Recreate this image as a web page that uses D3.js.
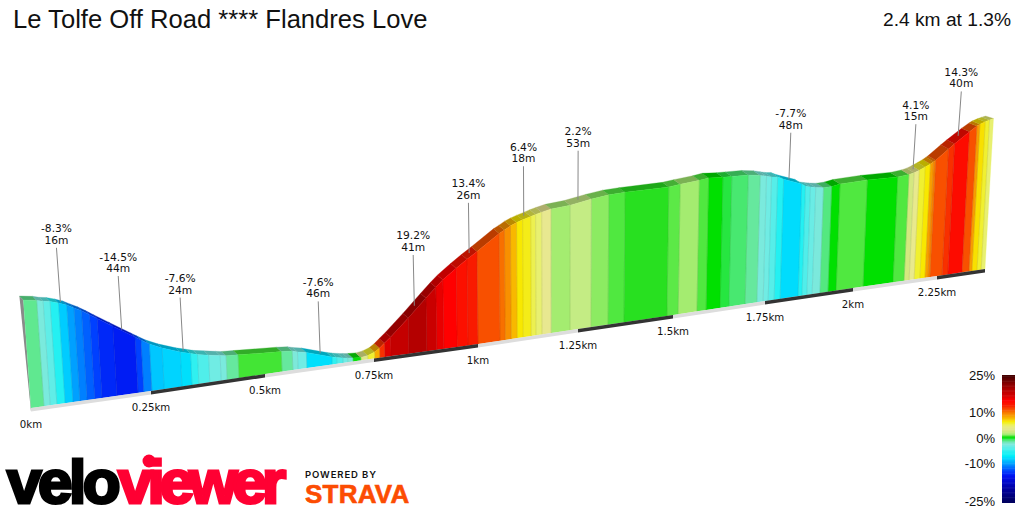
<!DOCTYPE html>
<html>
<head>
<meta charset="utf-8">
<script src="https://cdn.jsdelivr.net/npm/d3@7"></script>
<style>
  body { margin: 0; background: #fff; }
  text { fill: #111; }
</style>
</head>
<body>
<div id="chart"></div>
<script>
var titleText = 'Le Tolfe Off Road **** Flandres Love',
    summaryText = '2.4 km at 1.3%';

// km at the end of every gradient block
var segmentEnds = [
  .027, .040, .054, .071, .0875, .102, .117, .133, .148, .179, .223, .235, .252,
  .279, .318, .340, .355, .379, .404, .417, .443, .539, .564, .576, .596, .654,
  .665, .679, .690, .702, .720, .736, .752, .764, .776, .791, .834, .877, .901,
  .918, .950, .976, 1.0, 1.055, 1.068, 1.083, 1.098, 1.113, 1.133, 1.145, 1.160,
  1.183, 1.230, 1.284, 1.329, 1.371, 1.484, 1.514, 1.565, 1.590, 1.628, 1.652,
  1.696, 1.728, 1.745, 1.759, 1.776, 1.793, 1.844, 1.855, 1.869, 1.884, 1.906,
  1.929, 1.952, 2.030, 2.119, 2.152, 2.167, 2.182, 2.199, 2.214, 2.223, 2.229,
  2.266, 2.284, 2.328, 2.350, 2.359, 2.375, 2.388, 2.4
];

// gradient % of every block
var segmentGrades = [
  -1, -2.4, -3.5, -5.5, -8.3, -10, -11, -12, -13, -14, -14.5, -13, -11,
  -8.5, -8, -7.6, -5, -4, -3, -2.4, -1.2, .9, -1.2, -2.2, -3, -7.6,
  -5, -4, -3, -2, .4, 3.5, 6, 8.5, 12.5, 16.5, 18, 19.2, 17.5,
  16, 15, 14, 13.4, 11.5, 10.5, 9.5, 8, 6.8, 6.4, 5.5, 5,
  4, 1.7, 2.2, 1.5, 1, .7, 1.1, 1.7, 1, .3, -.1,
  -.6, -1.2, -2.4, -3, -3.8, -5.5, -7.7, -5.5, -4, -3.2, -2.3,
  -.8, .3, 1, .3, 1, 3, 4.1, 6, 6.8, 9, 10,
  11.5, 12.5, 14.3, 11.5, 9, 7, 6, 5
];

// elevation in metres at km 0 and at every block end
var elevations = [
  40.0, 39.3, 38.7, 38.3, 37.4, 36.3, 34.9, 33.5, 31.7, 29.9, 26.3, 21.2, 19.8, 17.9,
  15.7, 13.2, 12.1, 11.3, 10.5, 9.7, 9.3, 9.0, 7.9, 7.5, 6.9, 6.2, 3.0,
  2.5, 2.0, 1.7, 1.4, 1.2, 1.6, 2.6, 3.9, 5.7, 7.8, 14.6, 21.9, 25.9,
  28.6, 32.8, 36.0, 38.8, 45.3, 46.5, 48.0, 49.1, 50.0, 51.0, 51.7, 52.4,
  53.3, 54.1, 55.8, 56.9, 57.3, 57.8, 58.5, 59.4, 60.1, 59.7, 59.7,
  59.6, 58.9, 58.2, 57.6, 57.3, 56.0, 53.0, 51.7, 51.1, 50.6, 50.1,
  50.3, 51.1, 51.8, 51.9, 52.6, 53.2, 54.2, 55.6, 56.9, 57.8, 58.5,
  63.6, 66.0, 71.6, 74.2, 75.1, 76.2, 76.9, 77.5
];

var calloutKm = [.079, .201, .329, .633, .8555, .988, 1.123, 1.257, 1.818, 2.175, 2.306],
    calloutGrades = ['-8.3%', '-14.5%', '-7.6%', '-7.6%', '19.2%', '13.4%', '6.4%', '2.2%', '-7.7%', '4.1%', '14.3%'],
    calloutLengths = ['16m', '44m', '24m', '46m', '41m', '26m', '18m', '53m', '48m', '15m', '40m'];

var tickKm = [0, .25, .5, .75, 1, 1.25, 1.5, 1.75, 2, 2.25],
    tickLabels = ['0km', '0.25km', '0.5km', '0.75km', '1km', '1.25km', '1.5km', '1.75km', '2km', '2.25km'],
    totalKm = 2.4;

var legendTicks = [25, 10, 0, -10, -25],
    colorStops = [-25, -20, -15, -13, -10, -8, -7, -5, -3, -2, -1, -.2, .3, .7, 1, 1.7, 2.2, 3, 4, 5, 6, 6.8, 8, 9.5, 10.5, 11.5, 13, 15, 17, 19, 22, 25],
    colorValues = ['#000060', '#0000a0', '#0010f0', '#0040ff', '#00a0ff', '#00d4ff', '#00f0f8', '#30f0f0', '#70ece4', '#80e8d8',
                   '#60e890', '#30e850', '#00e000', '#28e020', '#50e840', '#a4ec70', '#c4ec84', '#d4e880', '#e8e890', '#e8f070',
                   '#f0f030', '#f8e800', '#f8b800', '#f89000', '#f87000', '#f85000', '#f82000', '#ff0000', '#d00000', '#b80000',
                   '#800000', '#400000'];

var WIDTH = 1024,
    HEIGHT = 512,
    STRIP = 3.5,
    FONT = '"DejaVu Sans", sans-serif',
    HEADER_FONT = '"Liberation Sans", Arial, sans-serif';

var svg = d3.select('#chart').append('svg')
  .attr('width', WIDTH)
  .attr('height', HEIGHT)
  .style('display', 'block');

var color = d3.scaleLinear().domain(colorStops).range(colorValues).clamp(true);

// the profile is a wall seen in perspective, so these are all piecewise
var perspectiveKm = tickKm.concat([totalKm]);
var xBase = d3.scaleLinear().domain(perspectiveKm).range([31, 151, 265, 374, 478, 578, 673, 765, 853, 937, 985]);
var yBase = d3.scaleLinear().domain(perspectiveKm).range([408, 391, 374, 358.5, 344, 329, 315, 301, 288, 276, 269]);
var depth = d3.scaleLinear().domain([0, totalKm]).range([1, .719]);
var yElev = d3.scaleLinear().domain([0, 100]).range([0, 270]);
var backDx = d3.scaleLinear().domain([0, totalKm]).range([-4, -8]);
var backDy = d3.scaleLinear().domain([0, 1, 2.25, totalKm]).range([-4, -4.7, -4.5, -2.5]);

var profileKm = [0].concat(segmentEnds);
var elevationAt = d3.scaleLinear().domain(profileKm).range(elevations);

var line = d3.line().x(function(d) { return d[0]; }).y(function(d) { return d[1]; });

var front = function(km) {
  var h = yElev(elevationAt(km)) * depth(km),
      x = xBase(km);
  return [x + h * (x - 560) / 7500, yBase(km) - h];
};
var back = function(km) {
  var p = front(km);
  return [p[0] + backDx(km), p[1] + backDy(km)];
};
var base = function(km) { return [xBase(km), yBase(km)]; };

var blocks = segmentEnds.map(function(end, i) {
  return { start: profileKm[i], end: end, grade: segmentGrades[i] };
});

// left end of the wall
var side = [back(0), front(0), base(0), [xBase(0), yBase(0) + STRIP]];
svg.append('path')
  .attr('d', line(side) + 'Z')
  .attr('fill', '#8a8a8a');

// road surface
svg.selectAll('path.top')
  .data(blocks)
  .enter()
  .append('path')
  .attr('class', 'top')
  .attr('d', function(d) {
    return line([back(d.start), back(d.end), front(d.end), front(d.start)]) + 'Z';
  })
  .attr('fill', function(d) { return d3.color(color(d.grade)).darker(.8); })
  .attr('stroke', function(d) { return d3.color(color(d.grade)).darker(.8); })
  .attr('stroke-width', .3);

// wall
svg.selectAll('path.face')
  .data(blocks)
  .enter()
  .append('path')
  .attr('class', 'face')
  .attr('d', function(d) {
    return line([front(d.start), front(d.end), base(d.end), base(d.start)]) + 'Z';
  })
  .attr('fill', function(d) { return color(d.grade); })
  .attr('stroke', function(d) { return color(d.grade); })
  .attr('stroke-width', .3);

// darker edge between the blocks
svg.selectAll('path.edge')
  .data(blocks.slice(0, -1))
  .enter()
  .append('path')
  .attr('class', 'edge')
  .attr('d', function(d) { return line([front(d.end), base(d.end)]); })
  .attr('fill', 'none')
  .attr('stroke', function(d) { return d3.color(color(d.grade)).darker(.6); })
  .attr('stroke-opacity', .6)
  .attr('stroke-width', .7);

// distance ruler along the bottom
svg.selectAll('path.ruler')
  .data(tickKm)
  .enter()
  .append('path')
  .attr('class', 'ruler')
  .attr('d', function(d, i) {
    var a = base(d), b = base(i + 1 < tickKm.length ? tickKm[i + 1] : totalKm);
    return line([a, b, [b[0], b[1] + STRIP], [a[0], a[1] + STRIP]]) + 'Z';
  })
  .attr('fill', function(d, i) { return i % 2 ? '#333' : '#ddd'; });

svg.selectAll('text.tick')
  .data(tickKm)
  .enter()
  .append('text')
  .attr('class', 'tick')
  .attr('x', function(d) { return xBase(d); })
  .attr('y', function(d) { return yBase(d) + 20; })
  .attr('text-anchor', 'middle')
  .style('font', '10.2px ' + FONT)
  .text(function(d, i) { return tickLabels[i]; });

// callouts
var callouts = svg.selectAll('g.callout')
  .data(calloutKm)
  .enter()
  .append('g')
  .attr('class', 'callout')
  .attr('transform', function(d) {
    var p = front(d);
    return 'translate(' + (p[0] + backDx(d) / 2) + ',' + (p[1] + backDy(d) / 2) + ')';
  });

var stem = function(d) { return 54.5 * (1 - .08 * d); };
var stemLean = function(d) { return (xBase(d) - 560) * .008; };

callouts.append('line')
  .attr('x1', 0)
  .attr('y1', 0)
  .attr('x2', function(d) { return stemLean(d); })
  .attr('y2', function(d) { return -stem(d); })
  .attr('stroke', '#888')
  .attr('stroke-width', 1);

callouts.append('text')
  .attr('x', function(d) { return stemLean(d); })
  .attr('y', function(d) { return -stem(d) - 15.5; })
  .attr('text-anchor', 'middle')
  .style('font', '10.7px ' + FONT)
  .text(function(d, i) { return calloutGrades[i]; });

callouts.append('text')
  .attr('x', function(d) { return stemLean(d); })
  .attr('y', function(d) { return -stem(d) - 4; })
  .attr('text-anchor', 'middle')
  .style('font', '10.7px ' + FONT)
  .text(function(d, i) { return calloutLengths[i]; });

// header
svg.append('text')
  .attr('x', 13)
  .attr('y', 28)
  .style('font', '25.6px ' + HEADER_FONT)
  .text(titleText);

svg.append('text')
  .attr('x', 1011)
  .attr('y', 26)
  .attr('text-anchor', 'end')
  .style('font', '19.2px ' + HEADER_FONT)
  .text(summaryText);

// gradient legend
var legendY = d3.scaleLinear().domain([-25, 25]).range([501, 375]);
var legendRange = d3.range(-25, 25, .5);

svg.selectAll('rect.legend')
  .data(legendRange)
  .enter()
  .append('rect')
  .attr('class', 'legend')
  .attr('x', 1002)
  .attr('y', function(d) { return legendY(d + .5); })
  .attr('width', 13)
  .attr('height', function(d) { return legendY(d) - legendY(d + .5) + .5; })
  .attr('fill', function(d) { return color(d + .25); });

svg.append('rect')
  .attr('x', 1002)
  .attr('y', legendY(-25))
  .attr('width', 13)
  .attr('height', 2)
  .attr('fill', color(-25));

svg.selectAll('text.legendTick')
  .data(legendTicks)
  .enter()
  .append('text')
  .attr('class', 'legendTick')
  .attr('x', 995)
  .attr('y', function(d) { return legendY(d) + 4.5; })
  .attr('text-anchor', 'end')
  .style('font', '13px ' + HEADER_FONT)
  .text(function(d) { return d + '%'; });

// logos
var logoText = function(x, y, size, spacing, fill, str) {
  return svg.append('text')
    .attr('x', x)
    .attr('y', y)
    .style('font', 'bold ' + size + 'px ' + HEADER_FONT)
    .style('letter-spacing', spacing + 'px')
    .style('fill', fill)
    .style('stroke', fill)
    .style('stroke-width', size > 40 ? 3 : .6)
    .text(str);
};

logoText(7, 503, 62, -3.5, '#000', 'velo');
logoText(118, 503, 62, -5, '#ff0033', 'viewer');
svg.append('circle')
  .attr('cx', 149)
  .attr('cy', 461)
  .attr('r', 6.5)
  .attr('fill', '#ff0033');
logoText(305, 478, 9.5, .9, '#111', 'POWERED BY').style('stroke-width', 0).style('font-family', 'Inter, sans-serif').style('font-weight', 600);
logoText(305, 503, 26, .25, '#fc4c02', 'STRAVA');
</script>
</body>
</html>
